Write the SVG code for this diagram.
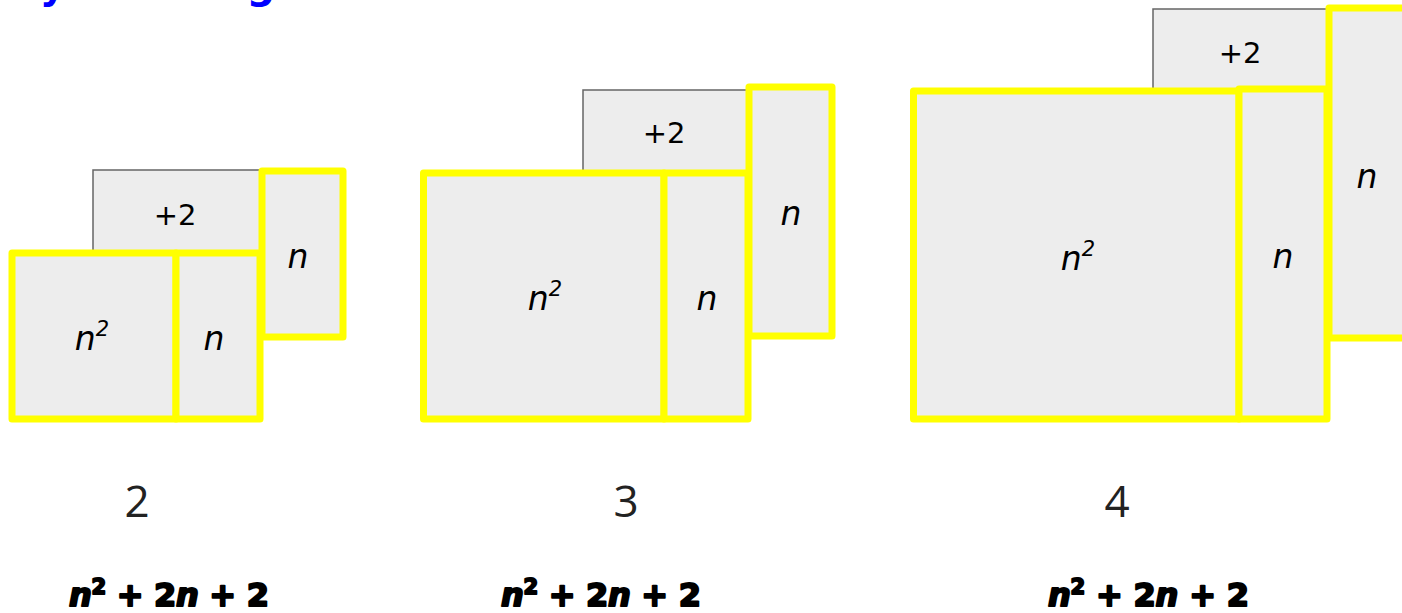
<svg xmlns="http://www.w3.org/2000/svg" width="1402" height="613" viewBox="0 0 1402 613">
  <style>
    .y { fill: #ededed; stroke: #ffff00; stroke-width: 7; stroke-linejoin: round; }
    .p { fill: #ededed; stroke: #666666; stroke-width: 1.5; }
    .lbl { font-family: "DejaVu Sans", sans-serif; font-size: 29px; fill: #000; text-anchor: middle; }
    .nv { font-family: "DejaVu Sans", sans-serif; font-style: italic; font-size: 33px; fill: #000; text-anchor: middle; }
    .num { font-family: "Open Sans", "Liberation Sans", sans-serif; font-size: 44px; fill: #222; text-anchor: middle; }
    .frm { font-family: "DejaVu Sans", sans-serif; font-weight: bold; font-size: 32px; fill: #000; stroke: #000; stroke-width: 2; stroke-linejoin: round; }
    .ttl { font-family: "DejaVu Sans", sans-serif; font-weight: bold; font-size: 40px; fill: #0000ff; }
  </style>
  <rect width="1402" height="613" fill="#ffffff"/>
  <text class="ttl" x="0" y="-2">My Thinking</text>

  <g id="figure-2">
    <g id="f2-plus2"><rect class="p" x="93" y="170" width="167" height="83"/><text class="lbl" x="175" y="225">+2</text></g>
    <g id="f2-top-n"><rect class="y" x="262" y="171" width="81" height="166"/><text class="nv" x="298" y="268">n</text></g>
    <g id="f2-n2"><rect class="y" x="12" y="253" width="164" height="166"/><text class="nv" x="92" y="350">n<tspan font-size="21" dy="-14">2</tspan></text></g>
    <g id="f2-n"><rect class="y" x="176" y="253" width="84" height="166"/><text class="nv" x="214" y="350">n</text></g>
    <text class="num" x="137" y="517">2</text>
    <text class="frm" x="69" y="606" textLength="200" lengthAdjust="spacing"><tspan font-style="italic">n</tspan><tspan font-size="21" dy="-12">2</tspan><tspan dy="12"> + 2</tspan><tspan font-style="italic">n</tspan><tspan> + 2</tspan></text>
  </g>

  <g id="figure-3">
    <g id="f3-plus2"><rect class="p" x="583" y="90" width="165" height="83"/><text class="lbl" x="664" y="143">+2</text></g>
    <g id="f3-top-n"><rect class="y" x="749" y="87" width="83" height="249"/><text class="nv" x="791" y="225">n</text></g>
    <g id="f3-n2"><rect class="y" x="423.5" y="173" width="240.5" height="246"/><text class="nv" x="545" y="310">n<tspan font-size="21" dy="-14">2</tspan></text></g>
    <g id="f3-n"><rect class="y" x="664" y="173" width="84" height="246"/><text class="nv" x="707" y="310">n</text></g>
    <text class="num" x="626" y="517">3</text>
    <text class="frm" x="501" y="606" textLength="200" lengthAdjust="spacing"><tspan font-style="italic">n</tspan><tspan font-size="21" dy="-12">2</tspan><tspan dy="12"> + 2</tspan><tspan font-style="italic">n</tspan><tspan> + 2</tspan></text>
  </g>

  <g id="figure-4">
    <g id="f4-plus2"><rect class="p" x="1153" y="9" width="176" height="82"/><text class="lbl" x="1240" y="63">+2</text></g>
    <g id="f4-top-n"><rect class="y" x="1329" y="8" width="100" height="330"/><text class="nv" x="1367" y="188">n</text></g>
    <g id="f4-n2"><rect class="y" x="913.5" y="91" width="325.5" height="328"/><text class="nv" x="1078" y="270">n<tspan font-size="21" dy="-14">2</tspan></text></g>
    <g id="f4-n"><rect class="y" x="1239" y="89" width="88" height="330"/><text class="nv" x="1283" y="268">n</text></g>
    <text class="num" x="1117" y="517">4</text>
    <text class="frm" x="1048" y="606" textLength="201" lengthAdjust="spacing"><tspan font-style="italic">n</tspan><tspan font-size="21" dy="-12">2</tspan><tspan dy="12"> + 2</tspan><tspan font-style="italic">n</tspan><tspan> + 2</tspan></text>
  </g>
  <g id="connectors"/>
</svg>
